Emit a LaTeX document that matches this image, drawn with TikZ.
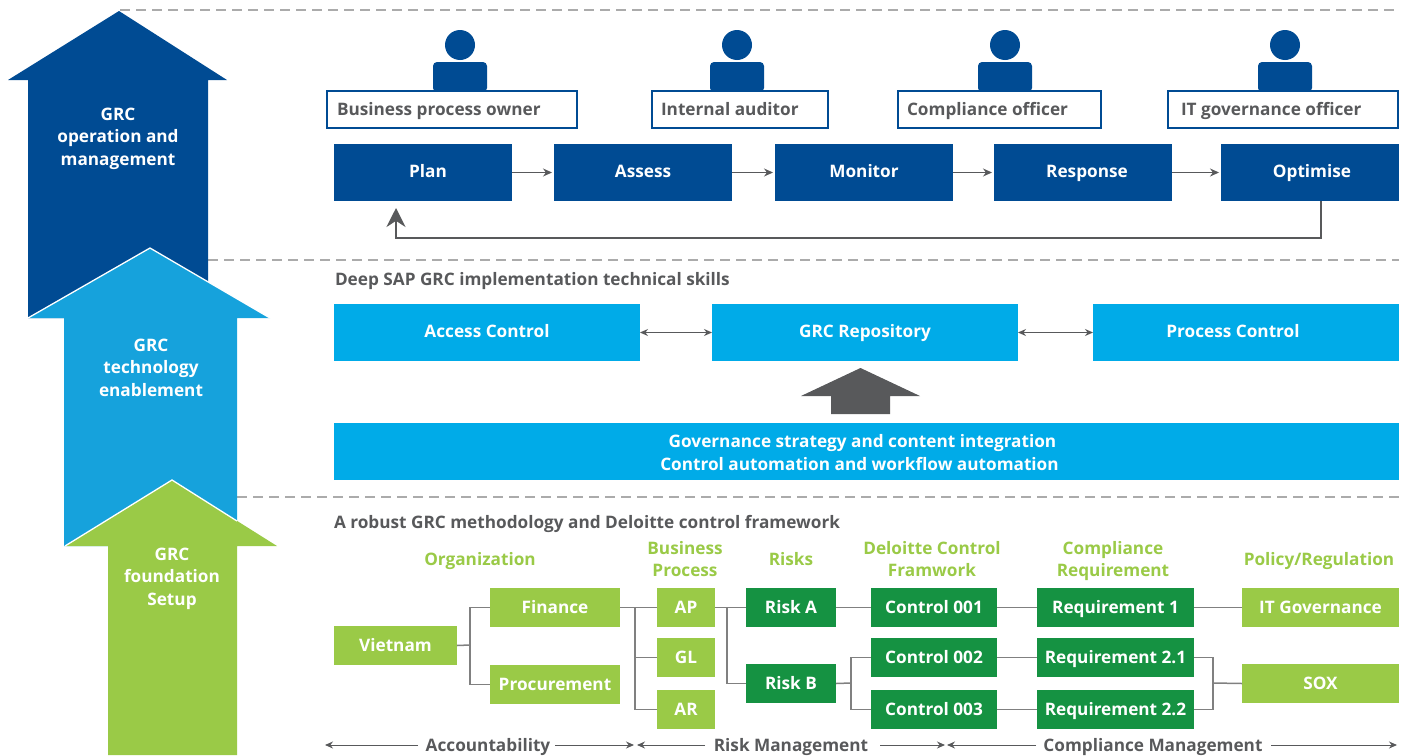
\documentclass[tikz,border=0pt]{standalone}
\usepackage{fontspec}
\setmainfont{Open Sans}
\usetikzlibrary{arrows.meta}
\definecolor{dblue}{HTML}{004B93}
\definecolor{mblue}{HTML}{16A2DC}
\definecolor{lblue}{HTML}{00ABE8}
\definecolor{lgreen}{HTML}{9ACA47}
\definecolor{dgreen}{HTML}{159242}
\definecolor{dgray}{HTML}{58595B}
\definecolor{lnk}{HTML}{808080}
\definecolor{dashc}{HTML}{ABABAB}
\newcommand\st{\vphantom{Apg}}
\tikzset{
 nodelift/.initial=16.5pt,
 base/.style={inner sep=0pt,outer sep=0pt,anchor=north west,align=center,font=\bfseries\fontsize{17.2}{22.5}\selectfont,execute at begin node={\rule{0pt}{\pgfkeysvalueof{/tikz/nodelift}}\st}},
 bx/.style={base,text=white},
 plain/.style={bx,fill=dblue,nodelift=14.5pt},
 lb/.style={bx,fill=lblue,nodelift=14.5pt},
 lg/.style={bx,fill=lgreen},
 dg/.style={bx,fill=dgreen},
 role/.style={base,draw=dblue,line width=2.4pt,fill=white},
 hdr/.style={base,anchor=center,text=lgreen},
 ttl/.style={base,anchor=west,text=dgray},
 btm/.style={base,anchor=center,text=dgray},
 atx/.style={base,anchor=center,text=white},
 dashl/.style={dashc,line width=1.2pt,dash pattern=on 10pt off 6pt},
 conn/.style={lnk,line width=1.5pt},
 flow/.style={dgray,line width=1pt,shorten >=2pt,-{Stealth[length=9pt,width=8pt]}},
 both/.style={dgray,line width=1pt,{Stealth[length=8pt,width=7pt]}-{Stealth[length=8pt,width=7pt]}},
 flowb/.style={dgray,line width=1pt,-{Stealth[length=8pt,width=7pt]}},
 person/.style={fill=dblue,draw=none},
 hh/.style={minimum height=39pt},
}
\begin{document}
\begin{tikzpicture}[x=1pt,y=-1pt]
\useasboundingbox (0,0) rectangle (1408,755);
% dashed lines
\coordinate (d1a) at (120,10); \coordinate (d1b) at (1399,10);
\coordinate (d2a) at (208,260); \coordinate (d2b) at (1399,260);
\coordinate (d3a) at (237,497); \coordinate (d3b) at (1399,497);
\draw[dashl] (d1a) -- (d1b);
\draw[dashl] (d2a) -- (d2b);
\draw[dashl] (d3a) -- (d3b);
% big arrows
\fill[dblue] (119,11) -- (227,80) -- (208,80) -- (208,318) -- (28,318) -- (28,80) -- (8,80) -- cycle;
\path[fill=mblue] (150,248) -- (270,318) -- (237,318) -- (237,546) -- (64,546) -- (64,318) -- (28,318) -- cycle;
\draw[white,line width=1.3pt] (28,318) -- (150,248) -- (270,318);
\path[fill=lgreen] (172,480) -- (277,546) -- (237,546) -- (237,755) -- (108,755) -- (108,546) -- (65,546) -- cycle;
\draw[white,line width=1.3pt] (65,546) -- (172,480) -- (237,521);
\node[atx] (a1) at (118,138.5) {GRC\\operation and\\management\st};
\node[atx] (a2) at (151,369.5) {GRC\\technology\\enablement\st};
\node[atx] (a3) at (172,578.5) {GRC\\foundation\\Setup\st};
% persons
\foreach \n/\x in {p1/460,p2/737,p3/1005,p4/1285}{
  \fill[person] (\x,45) ellipse (15 and 15);
  \fill[person,rounded corners=4pt] (\x-27,92) -- (\x-27,62) -- (\x+27,62) -- (\x+27,92) -- cycle;
}
% role boxes
\node[role,minimum width=250pt,minimum height=37pt] (r1) at (327,91) {};
\node[role,minimum width=176pt,minimum height=37pt] (r2) at (652,91) {};
\node[role,minimum width=203pt,minimum height=37pt] (r3) at (898,91) {};
\node[role,minimum width=230pt,minimum height=37pt] (r4) at (1168,91) {};
\node[ttl] (r1t) at (337,109.5) {Business process owner};
\node[ttl] (r2t) at (661,109.5) {Internal auditor};
\node[ttl] (r3t) at (907,109.5) {Compliance officer};
\node[ttl] (r4t) at (1181,109.5) {IT governance officer};
% process
\node[plain,minimum width=178pt,minimum height=57pt] (plan) at (334,144) {\hspace*{10pt}Plan};
\node[plain,minimum width=178pt,minimum height=57pt] (assess) at (554,144) {Assess};
\node[plain,minimum width=178pt,minimum height=57pt] (monitor) at (775,144) {Monitor};
\node[plain,minimum width=178pt,minimum height=57pt] (response) at (994,144) {\hspace*{8pt}Response};
\node[plain,minimum width=178pt,minimum height=57pt] (optimise) at (1221,144) {\hspace*{4pt}Optimise};
\draw[flow] (plan) -- (assess);
\draw[flow] (assess) -- (monitor);
\draw[flow] (monitor) -- (response);
\draw[flow] (response) -- (optimise);
\coordinate (fbs) at (1321,201);
\coordinate (fbc) at (1321,238);
\coordinate (fbe) at (396,208);
\draw[dgray,line width=2pt,-{Stealth[length=19pt,width=19pt]}] (fbs) -- (fbc) -| (fbe);
% middle
\node[ttl] (t2) at (335,279.5) {Deep SAP GRC implementation technical skills};
\node[lb,minimum width=306pt,minimum height=57pt] (ac) at (334,304) {Access Control};
\node[lb,minimum width=306pt,minimum height=57pt] (repo) at (712,304) {GRC Repository};
\node[lb,minimum width=306pt,minimum height=57pt] (pc) at (1093,304) {Process Control\hspace*{26pt}};
\draw[both] (ac) -- (repo);
\draw[both] (repo) -- (pc);
\fill[dgray] (860.5,368) -- (920,396) -- (890,396) -- (890,414) -- (831,414) -- (831,396) -- (801,396) -- cycle;
\node[lb,minimum width=1065pt,minimum height=57pt] (band) at (334,423) {};
\node[atx] (bandt) at (866.5,454.5) {Governance strategy and content integration\hspace*{8pt}\\Control automation and workflow automation\hspace*{14pt}\st};
% bottom
\node[ttl] (t3) at (334,522.5) {A robust GRC methodology and Deloitte control framework};
\node[hdr] (h1) at (480,559.5) {Organization};
\node[hdr] (h2) at (685,561) {Business\\Process\st};
\node[hdr] (h3) at (791,559.5) {Risks};
\node[hdr] (h4) at (932,561) {Deloitte Control\\Framwork\st};
\node[hdr] (h5) at (1113,561) {Compliance\\Requirement\st};
\node[hdr] (h6) at (1319,559.5) {Policy/Regulation};
\node[lg,hh,minimum width=123pt] (vn) at (334,626) {Vietnam};
\node[lg,hh,minimum width=130pt] (fin) at (490,588) {Finance};
\node[lg,hh,minimum width=130pt] (proc) at (490,665) {Procurement};
\node[lg,hh,minimum width=58pt] (ap) at (657,588) {AP};
\node[lg,hh,minimum width=58pt] (gl) at (657,638) {GL};
\node[lg,hh,minimum width=58pt] (ar) at (657,690) {AR};
\node[dg,hh,minimum width=90pt] (ra) at (746,588) {Risk A};
\node[dg,hh,minimum width=90pt] (rb) at (746,664) {Risk B};
\node[dg,hh,minimum width=126pt] (c1) at (871,588) {Control 001};
\node[dg,hh,minimum width=126pt] (c2) at (871,638) {Control 002};
\node[dg,hh,minimum width=126pt] (c3) at (871,690) {Control 003};
\node[dg,hh,minimum width=157pt] (q1) at (1037,588) {Requirement 1};
\node[dg,hh,minimum width=157pt] (q2) at (1037,638) {Requirement 2.1};
\node[dg,hh,minimum width=157pt] (q3) at (1037,690) {Requirement 2.2};
\node[lg,hh,minimum width=157pt] (it) at (1242,588) {IT Governance};
\node[lg,hh,minimum width=157pt] (sox) at (1242,664) {SOX};
% connectors
\coordinate (b1) at (470,645);
\coordinate (b2) at (635,607);
\coordinate (b3) at (727,607);
\coordinate (b4) at (851,683);
\coordinate (b5) at (1213,683);
\draw[conn] (vn.east) -- (b1);
\draw[conn] (fin.west) -| (b1) |- (proc.west);
\draw[conn] (fin.east) -- (ap.west);
\draw[conn] (b2) |- (gl.west);
\draw[conn] (b2) |- (ar.west);
\draw[conn] (ap.east) -- (ra.west);
\draw[conn] (b3) |- (rb.west);
\draw[conn] (ra.east) -- (c1.west);
\draw[conn] (c1.east) -- (q1.west);
\draw[conn] (q1.east) -- (it.west);
\draw[conn] (rb.east) -- (b4);
\draw[conn] (c2.west) -| (b4) |- (c3.west);
\draw[conn] (c2.east) -- (q2.west);
\draw[conn] (c3.east) -- (q3.west);
\draw[conn] (q2.east) -| (b5) |- (q3.east);
\draw[conn] (b5) -- (sox.west);
% bottom labels
\node[btm] (l1) at (488,745) {Accountability};
\node[btm] (l2) at (791,745) {Risk Management};
\node[btm] (l3) at (1153,745) {Compliance Management};
\coordinate (e1a) at (325,745); \coordinate (e1b) at (634,745);
\coordinate (e2a) at (637,745); \coordinate (e2b) at (945,745);
\coordinate (e3a) at (947,745); \coordinate (e3b) at (1397,745);
\coordinate (s1a) at (418,745); \coordinate (s1b) at (555,745);
\coordinate (s2a) at (705,745); \coordinate (s2b) at (880,745);
\coordinate (s3a) at (1036,745); \coordinate (s3b) at (1271,745);
\draw[flowb] (s1a) -- (e1a);
\draw[flowb] (s1b) -- (e1b);
\draw[flowb] (s2a) -- (e2a);
\draw[flowb] (s2b) -- (e2b);
\draw[flowb] (s3a) -- (e3a);
\draw[flowb] (s3b) -- (e3b);
\end{tikzpicture}
\end{document}
